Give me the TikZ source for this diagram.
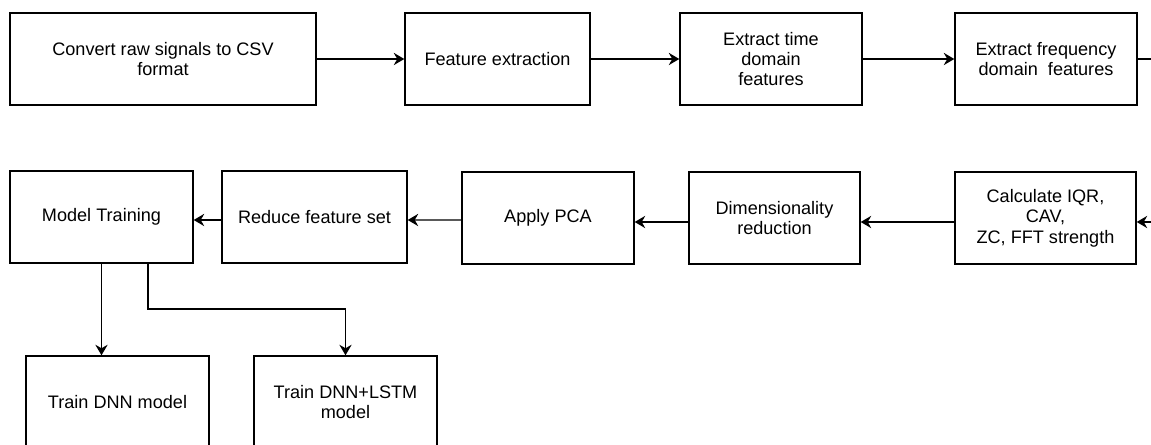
\documentclass[tikz,border=0pt]{standalone}
\usepackage{fontspec}
\setmainfont{Liberation Sans}
\usetikzlibrary{arrows.meta}

\tikzset{
  procbox/.style={draw,line width=0.8pt,minimum height=1.84cm,inner sep=2pt,
    align=center,font=\fontsize{10.3}{11.6}\selectfont},
  flow/.style={line width=0.8pt,-{Stealth[length=6pt,width=7pt,inset=2pt]}}
}

\begin{document}
\begin{tikzpicture}
  % page frame
  \clip (0,0) rectangle (23.02,-8.9);
  \fill[white] (0,0) rectangle (23.02,-8.9);
  % first row
  \node[procbox,minimum width=6.12cm] (conv) at (3.26,-1.18) {Convert raw signals to CSV\\format};
  \node[procbox,minimum width=3.70cm] (feat) at (9.95,-1.18) {Feature extraction};
  \node[procbox,minimum width=3.64cm] (time) at (15.42,-1.18) {Extract time\\domain\\features};
  \node[procbox,minimum width=3.64cm] (freq) at (20.92,-1.18) {Extract frequency\\domain\ \ features};
  % second row
  \node[procbox,minimum width=3.66cm] (train) at (2.03,-4.34) {Model Training};
  \node[procbox,minimum width=3.70cm] (reduce) at (6.29,-4.34) {Reduce feature set};
  \node[procbox,minimum width=3.44cm] (pca) at (10.96,-4.36) {Apply PCA};
  \node[procbox,minimum width=3.42cm] (dim) at (15.49,-4.36) {Dimensionality\\reduction};
  \node[procbox,minimum width=3.62cm] (calc) at (20.91,-4.36) {Calculate IQR,\\CAV,\\ZC, FFT strength};
  % models
  \node[procbox,minimum width=3.66cm] (dnn) at (2.35,-8.04) {Train DNN model};
  \node[procbox,minimum width=3.66cm] (lstm) at (6.91,-8.04) {Train DNN+LSTM\\model};
  % turning points
  \coordinate (turn) at (23.5,-1.18);
  \coordinate (split) at (2.96,-6.18);
  % arrows
  \draw[flow] (conv) -- (feat);
  \draw[flow] (feat) -- (time);
  \draw[flow] (time) -- (freq);
  \draw[flow] (freq.east) -- (turn) |- ([yshift=-0.08cm]calc.east);
  \draw[flow] ([yshift=-0.08cm]calc.west) -- ([yshift=-0.08cm]dim.east);
  \draw[flow] ([yshift=-0.08cm]dim.west) -- ([yshift=-0.08cm]pca.east);
  \draw[flow] ([yshift=-0.04cm]pca.west) -- ([yshift=-0.06cm]reduce.east);
  \draw[flow] ([yshift=-0.06cm]reduce.west) -- ([yshift=-0.06cm]train.east);
  \draw[flow] (train.south) -- (train.south |- dnn.north);
  \draw[flow] (train.south -| split) -- (split) -| (lstm.north);
\end{tikzpicture}
\end{document}
